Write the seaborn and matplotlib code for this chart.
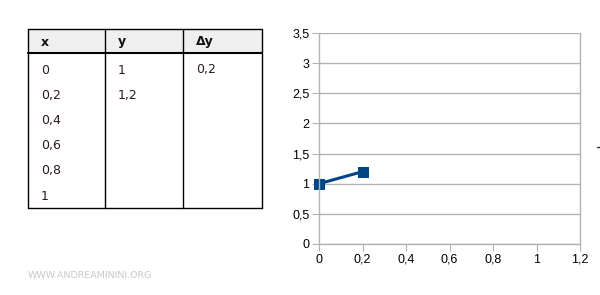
import matplotlib
matplotlib.use("Agg")
import matplotlib.pyplot as plt
import seaborn as sns
from matplotlib.ticker import FuncFormatter, MultipleLocator
from matplotlib.patches import Rectangle

# data
col_labels = ["x", "y", "Δy"]
x_col = ["0", "0,2", "0,4", "0,6", "0,8", "1"]
y_col = ["1", "1,2", "", "", "", ""]
dy_col = ["0,2", "", "", "", "", ""]
xs = [0, 0.2]
ys = [1, 1.2]

sns.set_style("white")
plt.rcParams['font.family'] = ['Liberation Sans', 'DejaVu Sans']

fig = plt.figure(figsize=(6, 2.95), dpi=100)

# table drawn in figure-pixel coordinates
tax = fig.add_axes([0, 0, 1, 1])
tax.set_xlim(0, 600)
tax.set_ylim(295, 0)
tax.axis('off')
col_edges = [28, 105, 183, 262]
top, head_bot, bottom = 29, 53, 208
tax.add_patch(Rectangle((col_edges[0], top), col_edges[-1] - col_edges[0],
                        head_bot - top, facecolor='#efefef', edgecolor='none'))
# borders
tax.plot([col_edges[0], col_edges[-1]], [top, top], color='black', lw=1.0)
tax.plot([col_edges[0], col_edges[-1]], [bottom, bottom], color='black', lw=1.0)
tax.plot([col_edges[0], col_edges[-1]], [head_bot, head_bot], color='black', lw=1.5)
for xe in col_edges:
    tax.plot([xe, xe], [top, bottom], color='black', lw=1.0)
tfont = ['DejaVu Sans']
columns = [x_col, y_col, dy_col]
for j, lab in enumerate(col_labels):
    tx = col_edges[j] + 13
    tax.text(tx, 42, lab, fontsize=9, fontweight='bold', family=tfont,
             va='center', ha='left', color='#111111')
    for i, val in enumerate(columns[j]):
        tax.text(tx, 70 + 25.2 * i, val, fontsize=9, family=tfont,
                 va='center', ha='left', color='#2a1a1a')

# chart
ax = fig.add_axes([319/600, 1-244/295, (580-319)/600, (244-33)/295])
sns.lineplot(x=xs, y=ys, ax=ax, marker='s', markersize=7, color='#004586',
             linewidth=2.2, markeredgecolor='#004586')
ax.set_xlim(0, 1.2)
ax.set_ylim(0, 3.5)
ax.xaxis.set_major_locator(MultipleLocator(0.2))
ax.yaxis.set_major_locator(MultipleLocator(0.5))
fmt = FuncFormatter(lambda v, p: ('{:g}'.format(round(v, 2))).replace('.', ','))
ax.xaxis.set_major_formatter(fmt)
ax.yaxis.set_major_formatter(fmt)
ax.yaxis.grid(True, color='#b3b3b3', linewidth=1)
ax.xaxis.grid(False)
ax.set_axisbelow(True)
for s in ['left', 'bottom', 'right']:
    ax.spines[s].set_color('#b3b3b3')
    ax.spines[s].set_linewidth(1)
ax.spines['top'].set_visible(False)
ax.tick_params(axis='both', which='major', direction='out', length=5,
               color='#b3b3b3', labelsize=9, labelcolor='#000000', pad=2,
               left=True, bottom=True)
for m in ax.get_lines():
    m.set_clip_on(False)

# small legend remnant at right edge
tax.plot([597, 601], [147, 147], color='#333333', lw=1)

tax.text(28, 276, "WWW.ANDREAMININI.ORG", color='#c8c8c8', family=['DejaVu Sans'],
         fontsize=6.8, va='center', ha='left')

fig.savefig("out.png", dpi=100)
